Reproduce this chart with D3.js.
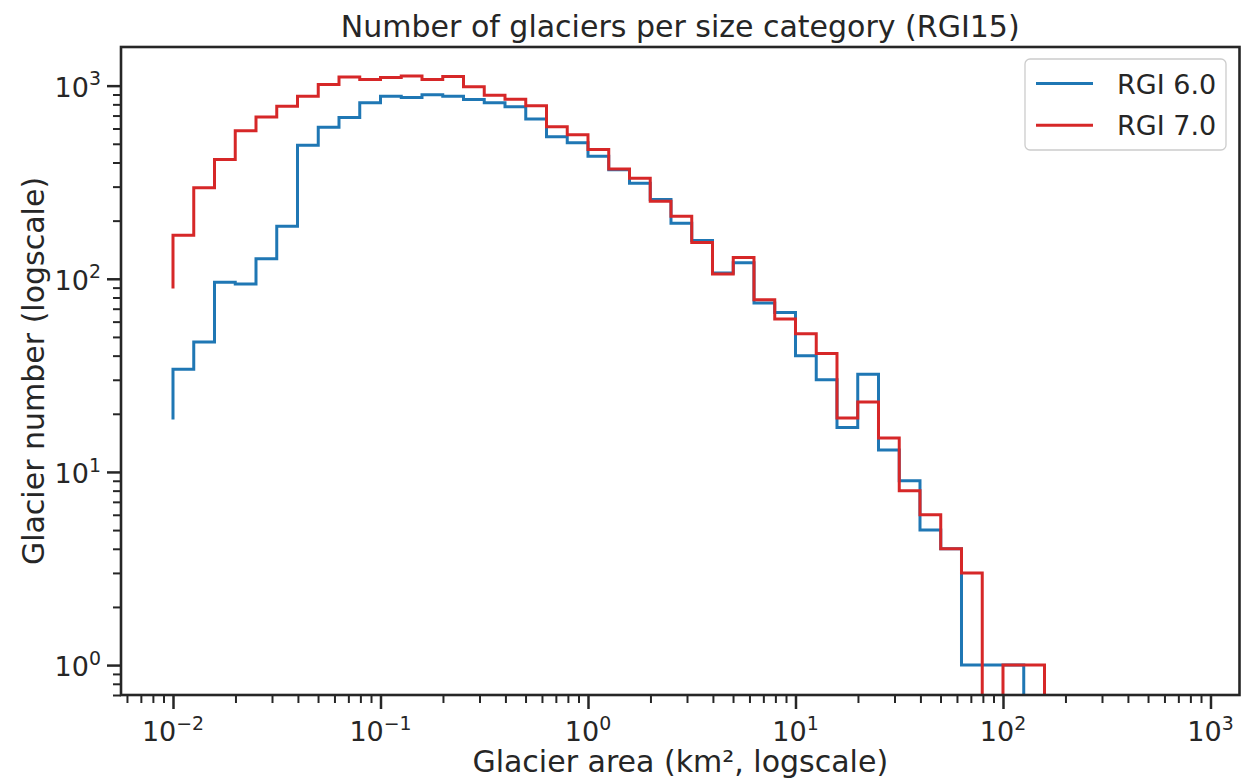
<!DOCTYPE html>
<html>
<head>
<meta charset="utf-8">
<script src="https://cdn.jsdelivr.net/npm/d3@7"></script>
<style>
  html, body { margin: 0; padding: 0; background: #ffffff; }
  svg { display: block; font-family: "DejaVu Sans", sans-serif; }
</style>
</head>
<body>
<svg id="chart" width="1241" height="782"></svg>
<script>
// Histogram bins: 10 per decade, left edges 10^-2 ... 10^2.1 (km²)
const binExponents = d3.range(0, 43).map(k => -2 + k / 10);   // 43 edges -> 42 bins

// Glacier counts per bin
const rgi6Counts = [34, 47, 96, 94, 127, 187, 492, 608, 684, 815,
                    882, 868, 897, 882, 848, 815, 777, 671, 543, 506,
                    431, 367, 312, 257, 194, 158, 107, 121, 75, 67,
                    40, 30, 17, 32, 13, 9, 5, 4, 1, 1,
                    1, 0];
const rgi7Counts = [168, 296, 415, 584, 689, 783, 882, 1013, 1110, 1076,
                    1101, 1123, 1077, 1115, 986, 892, 851, 786, 612, 557,
                    467, 370, 332, 252, 211, 154, 106, 129, 78, 62,
                    52, 41, 19, 23, 15, 8, 6, 4, 3, 0,
                    1, 1];
// Level at which each step outline begins at the first edge
const rgi6Start = 18.7;
const rgi7Start = 89;

const seriesNames = ["RGI 6.0", "RGI 7.0"];
const seriesColors = ["#1f77b4", "#d62728"];

const xMajor = [-2, -1, 0, 1, 2, 3];
const yMajor = [0, 1, 2, 3];

const titleText = "Number of glaciers per size category (RGI15)";
const xLabel = "Glacier area (km\u00B2, logscale)";
const yLabel = "Glacier number (logscale)";

// ---------------------------------------------------------------
const svg = d3.select("#chart");
const margin = { left: 121, top: 47, right: 1241 - 1239.5, bottom: 782 - 695 };
const W = 1241 - margin.left - margin.right;
const H = 782 - margin.top - margin.bottom;
const ink = "#262626";

const x = d3.scaleLog().domain([Math.pow(10, -2.2506), Math.pow(10, 3.1398)]).range([0, W]);
const y = d3.scaleLog().domain([0.70, 1585]).range([H, 0]);

const g = svg.append("g").attr("transform", `translate(${margin.left},${margin.top})`);

g.append("defs").append("clipPath").attr("id", "plotClip")
  .append("rect").attr("x", 0).attr("y", 0).attr("width", W).attr("height", H);

// Step outlines
const edges = binExponents.map(e => Math.pow(10, e));
function stepPoints(counts, start) {
  const yv = v => (v > 0 ? y(v) : H + 20);
  const pts = [[x(edges[0]), yv(start)]];
  counts.forEach((c, i) => {
    pts.push([x(edges[i]), yv(c)]);
    pts.push([x(edges[i + 1]), yv(c)]);
  });
  pts.push([x(edges[counts.length]), H + 20]);
  return pts;
}
const line = d3.line();
const plot = g.append("g").attr("clip-path", "url(#plotClip)");
[[rgi6Counts, rgi6Start], [rgi7Counts, rgi7Start]].forEach(([counts, start], i) => {
  plot.append("path")
    .attr("d", line(stepPoints(counts, start)))
    .attr("fill", "none")
    .attr("stroke", seriesColors[i])
    .attr("stroke-width", 3)
    .attr("stroke-linejoin", "miter")
    .attr("stroke-linecap", "butt");
});

// Minor tick positions within each domain
function minorTicks(scale) {
  const [a, b] = scale.domain();
  const out = [];
  for (let e = Math.floor(Math.log10(a)); e <= Math.ceil(Math.log10(b)); e++) {
    for (let m = 2; m <= 9; m++) {
      const v = m * Math.pow(10, e);
      if (v >= a * 0.999 && v <= b) out.push(v);
    }
  }
  return out;
}

function styleAxis(sel, width) {
  sel.select(".domain").remove();
  sel.selectAll(".tick line").attr("stroke", ink).attr("stroke-width", width);
}

// X axis ticks
g.append("g").attr("transform", `translate(0,${H})`)
  .call(d3.axisBottom(x).tickValues(minorTicks(x)).tickSize(8).tickFormat(""))
  .call(s => styleAxis(s, 2));
g.append("g").attr("transform", `translate(0,${H})`)
  .call(d3.axisBottom(x).tickValues(xMajor.map(e => Math.pow(10, e))).tickSize(14).tickFormat(""))
  .call(s => styleAxis(s, 2.5));

// Y axis ticks
g.append("g")
  .call(d3.axisLeft(y).tickValues(minorTicks(y)).tickSize(8).tickFormat(""))
  .call(s => styleAxis(s, 2));
g.append("g")
  .call(d3.axisLeft(y).tickValues(yMajor.map(e => Math.pow(10, e))).tickSize(14).tickFormat(""))
  .call(s => styleAxis(s, 2.5));

// Power-of-ten labels
const tickFont = 27;
function powerLabel(sel, e) {
  sel.append("tspan").text("10");
  sel.append("tspan")
    .attr("font-size", tickFont * 0.7)
    .attr("dy", -tickFont * 0.42)
    .text(e < 0 ? "\u2212" + (-e) : String(e));
}
xMajor.forEach(e => {
  g.append("text")
    .attr("x", x(Math.pow(10, e)))
    .attr("y", H + 46)
    .attr("text-anchor", "middle")
    .attr("font-size", tickFont)
    .attr("fill", ink)
    .call(t => powerLabel(t, e));
});
yMajor.forEach(e => {
  g.append("text")
    .attr("x", -20)
    .attr("y", y(Math.pow(10, e)) + 11)
    .attr("text-anchor", "end")
    .attr("font-size", tickFont)
    .attr("fill", ink)
    .call(t => powerLabel(t, e));
});

// Frame
g.append("rect")
  .attr("x", 0).attr("y", 0).attr("width", W).attr("height", H)
  .attr("fill", "none").attr("stroke", ink).attr("stroke-width", 2.6);

// Title and axis labels
svg.append("text")
  .attr("x", margin.left + W / 2).attr("y", 37)
  .attr("text-anchor", "middle").attr("font-size", 30).attr("fill", ink)
  .text(titleText);
svg.append("text")
  .attr("x", margin.left + W / 2).attr("y", 772)
  .attr("text-anchor", "middle").attr("font-size", 30).attr("fill", ink)
  .text(xLabel);
svg.append("text")
  .attr("transform", `translate(44,${margin.top + H / 2}) rotate(-90)`)
  .attr("text-anchor", "middle").attr("font-size", 30).attr("fill", ink)
  .text(yLabel);

// Legend
const legend = svg.append("g").attr("transform", "translate(1025,59)");
legend.append("rect")
  .attr("width", 201).attr("height", 91).attr("rx", 5)
  .attr("fill", "#ffffff").attr("fill-opacity", 0.8)
  .attr("stroke", "#cccccc").attr("stroke-width", 1.3);
seriesNames.forEach((name, i) => {
  const ly = 24.5 + i * 41.7;
  legend.append("line")
    .attr("x1", 11).attr("x2", 68).attr("y1", ly).attr("y2", ly)
    .attr("stroke", seriesColors[i]).attr("stroke-width", 3);
  legend.append("text")
    .attr("x", 92).attr("y", ly + 10)
    .attr("font-size", tickFont).attr("fill", ink)
    .text(name);
});
</script>
</body>
</html>
